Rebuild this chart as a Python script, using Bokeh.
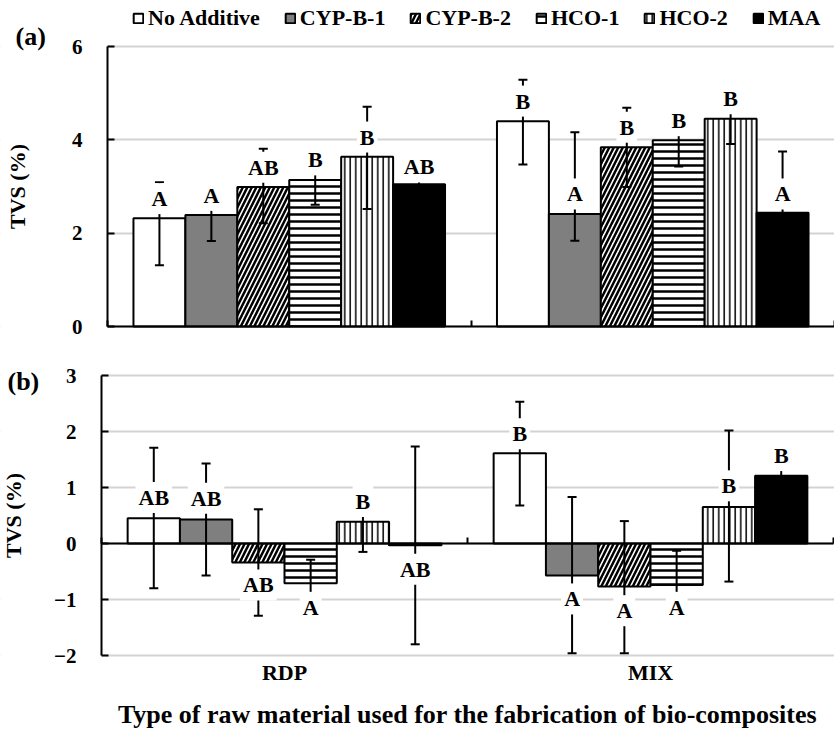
import numpy as np
from bokeh.plotting import figure
from bokeh.models import (ColumnDataSource, Range1d, FixedTicker, LinearAxis, Whisker,
                          TeeHead, Legend, LegendItem, Label, BoxAnnotation)
from bokeh.layouts import column
from bokeh.embed import file_html
from bokeh.resources import INLINE
from bokeh.core.properties import value

# ---------------- data ----------------
groups = ["RDP", "MIX"]
series = ["No Additive", "CYP-B-1", "CYP-B-2", "HCO-1", "HCO-2", "MAA"]
yticks_a = [0, 2, 4, 6]
yticks_b = [-2, -1, 0, 1, 2, 3]

# panel (a): values per series, [RDP, MIX]
a_mean = [[2.32, 4.40], [2.39, 2.41], [2.99, 3.84], [3.14, 3.99], [3.64, 4.45], [3.05, 2.44]]
a_err_up = [[0.77, 0.89], [0.56, 1.75], [0.82, 0.85], [0.53, 0.56], [1.07, 0.54], [0.66, 1.31]]
a_err_dn = [[1.01, 0.93], [0.56, 0.57], [0.78, 0.85], [0.53, 0.56], [1.12, 0.54], [0.66, 1.33]]
a_letters = [["A", "B"], ["A", "A"], ["AB", "B"], ["B", "B"], ["B", "B"], ["AB", "A"]]
a_letter_y = [[2.74, 4.83], [2.81, 2.84], [3.41, 4.27], [3.57, 4.41], [4.06, 4.88], [3.42, 2.84]]

# panel (b)
b_mean = [[0.45, 1.61], [0.43, -0.57], [-0.34, -0.77], [-0.71, -0.74], [0.39, 0.65], [-0.03, 1.21]]
b_err_up = [[1.26, 0.92], [1.00, 1.40], [0.95, 1.17], [0.42, 0.61], [0.54, 1.37], [1.76, 0.26]]
b_err_dn = [[1.25, 0.93], [1.00, 1.39], [0.95, 1.19], [0.42, 0.61], [0.54, 1.33], [1.77, 0.26]]
b_letters = [["AB", "B"], ["AB", "A"], ["AB", "A"], ["A", "A"], ["B", "B"], ["AB", "B"]]
b_letter_y = [[0.82, 1.96], [0.81, -0.99], [-0.74, -1.20], [-1.14, -1.14], [0.75, 1.03], [-0.46, 1.57]]

x_title = "Type of raw material used for the fabrication of bio-composites"
y_title = "TVS (%)"

# ---------------- styles ----------------
fills = ["white", "#7f7f7f", "white", "white", "white", "black"]
hatches = [None, None, "/", "-", "|", None]
hatch_scales = [10, 10, 9, 7, 5.5, 10]
hatch_weights = [1, 1, 2.5, 2.5, 1.5, 1]
FONT = "Liberation Serif"
GRID = "#d3d3d3"
W = 834

n_s = len(series)
n_g = len(groups)
span = n_g * (n_s + 1)


def make_fig(H, left, right, top, bottom, ymin, ymax):
    """Frame covers the whole canvas; axes are drawn at fixed data locations."""
    upx = span / (right - left)
    upy = (ymax - ymin) / (bottom - top)
    p = figure(width=W, height=H,
               x_range=Range1d(-left * upx, span + (W - right) * upx),
               y_range=Range1d(ymin - (H - bottom) * upy, ymax + top * upy),
               output_backend="svg", toolbar_location=None,
               min_border=0, min_border_left=0, min_border_right=0,
               min_border_top=0, min_border_bottom=0)
    p.title.visible = False
    p.outline_line_color = None
    return p


def build(p, means, eu, ed, letters, ly):
    rends = []
    wx, wu, wl, tx, ty, tt = [], [], [], [], [], []
    for i in range(n_s):
        xs = [g * (n_s + 1) + i + 1 for g in range(n_g)]
        src = ColumnDataSource(dict(x=xs, top=means[i]))
        kw = {}
        if hatches[i] is not None:
            kw = dict(hatch_pattern=hatches[i], hatch_color="black",
                      hatch_scale=hatch_scales[i], hatch_weight=hatch_weights[i])
        r = p.vbar(x="x", top="top", bottom=0, width=1, source=src,
                   fill_color=fills[i], line_color="black", line_width=2, **kw)
        rends.append(r)
        for g in range(n_g):
            wx.append(xs[g])
            wu.append(means[i][g] + eu[i][g])
            wl.append(means[i][g] - ed[i][g])
            tx.append(xs[g])
            ty.append(ly[i][g])
            tt.append(letters[i][g])
    wsrc = ColumnDataSource(dict(x=wx, upper=wu, lower=wl))
    w = Whisker(base="x", upper="upper", lower="lower", source=wsrc, dimension="height",
                line_width=2, line_color="black",
                upper_head=TeeHead(size=9, line_width=2, line_color="black"),
                lower_head=TeeHead(size=9, line_width=2, line_color="black"))
    w.level = "annotation"
    p.add_layout(w)
    tsrc = ColumnDataSource(dict(x=tx, y=ty, t=tt))
    tr = p.text(x="x", y="y", text="t", source=tsrc, text_font=value(FONT),
                text_font_style="bold", text_font_size="22px", text_align="center",
                text_baseline="middle", text_color="black",
                background_fill_color="white", padding=3)
    tr.level = "overlay"
    return rends


def style_y(p, ticks, label_standoff):
    ya = p.yaxis[0]
    ya.fixed_location = 0
    ya.bounds = (ticks[0], ticks[-1])
    tk = FixedTicker(ticks=ticks)
    ya.ticker = tk
    ya.major_tick_in = 7
    ya.major_tick_out = 0
    ya.major_tick_line_width = 2
    ya.axis_line_width = 2
    ya.minor_tick_line_color = None
    ya.major_label_standoff = 25
    ya.major_label_text_font = FONT
    ya.major_label_text_font_style = "bold"
    ya.major_label_text_font_size = "21px"
    ya.major_label_text_color = "black"
    ya.axis_label = y_title
    ya.axis_label_text_font = FONT
    ya.axis_label_text_font_style = "bold"
    ya.axis_label_text_font_size = "22px"
    ya.axis_label_text_color = "black"
    ya.axis_label_standoff = label_standoff
    p.ygrid.ticker = tk
    p.ygrid.grid_line_color = GRID
    p.ygrid.grid_line_width = 2
    p.xgrid.visible = False
    # keep the grid lines to the right of the value axis
    p.add_layout(BoxAnnotation(right=0, fill_color="white", fill_alpha=1,
                               line_alpha=0, level="underlay"))


def style_zero_axis(ax):
    sep = [0, n_s + 1, span]
    ax.fixed_location = 0
    ax.bounds = (0, span)
    ax.ticker = FixedTicker(ticks=sep)
    ax.major_label_overrides = {t: "" for t in sep}
    ax.major_tick_in = 6
    ax.major_tick_out = 0
    ax.major_tick_line_width = 2
    ax.axis_line_width = 2
    ax.minor_tick_line_color = None


# ---------------- panel (a) ----------------
HA = 342
pA = make_fig(HA, 107, 834, 46, 326, yticks_a[0], yticks_a[-1])
rA = build(pA, a_mean, a_err_up, a_err_dn, a_letters, a_letter_y)
style_y(pA, yticks_a, 39)
style_zero_axis(pA.xaxis[0])

legend = Legend(items=[LegendItem(label=s, renderers=[r]) for s, r in zip(series, rA)],
                orientation="horizontal", location=(132, HA - 31),
                label_text_font=FONT, label_text_font_style="bold",
                label_text_font_size="22px", label_text_color="black",
                label_height=24, glyph_width=12, glyph_height=12, label_standoff=4,
                spacing=24, padding=0, margin=0, border_line_color=None,
                background_fill_alpha=0)
pA.add_layout(legend)
pA.add_layout(Label(x=15, y=HA - 36, x_units="screen", y_units="screen", text="(a)",
                    text_font=FONT, text_font_style="bold", text_font_size="26px",
                    text_baseline="middle", text_color="black"))

# ---------------- panel (b) ----------------
HB = 740 - HA
pB = make_fig(HB, 101, 833, 375 - HA, 655 - HA, yticks_b[0], yticks_b[-1])
build(pB, b_mean, b_err_up, b_err_dn, b_letters, b_letter_y)
style_y(pB, yticks_b, 25)
style_zero_axis(pB.xaxis[0])

centers = [g * (n_s + 1) + (n_s + 1) / 2 for g in range(n_g)]
lab_axis = LinearAxis(fixed_location=yticks_b[0], bounds=(0, span),
                      ticker=FixedTicker(ticks=centers),
                      major_label_overrides={c: g for c, g in zip(centers, groups)},
                      axis_line_color=None, major_tick_line_color=None,
                      minor_tick_line_color=None, major_label_standoff=-2,
                      major_label_text_font=FONT, major_label_text_font_style="bold",
                      major_label_text_font_size="22px", major_label_text_color="black",
                      axis_label=x_title, axis_label_text_font=FONT,
                      axis_label_text_font_style="bold", axis_label_text_font_size="26px",
                      axis_label_text_color="black", axis_label_standoff=12)
pB.add_layout(lab_axis, "below")
pB.add_layout(Label(x=7, y=HB - (381 - HA), x_units="screen", y_units="screen", text="(b)",
                    text_font=FONT, text_font_style="bold", text_font_size="26px",
                    text_baseline="middle", text_color="black"))

layout = column(pA, pB, spacing=0)
open("out.html", "w").write(file_html(layout, INLINE))
